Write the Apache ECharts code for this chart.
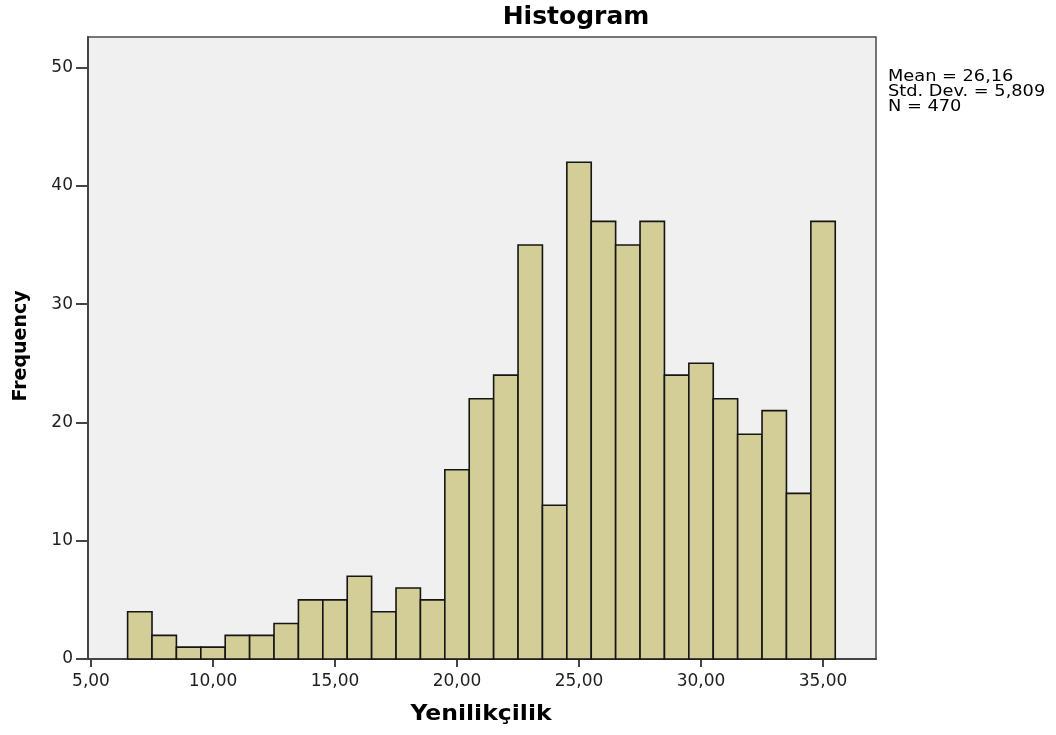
<!DOCTYPE html>
<html>
<head>
<meta charset="utf-8">
<title>Histogram</title>
<script src="https://cdn.jsdelivr.net/npm/echarts@6/dist/echarts.min.js"></script>
<style>
  html, body { margin: 0; padding: 0; background: #ffffff; }
  #chart { width: 1056px; height: 735px; }
</style>
</head>
<body>
<div id="chart"></div>
<script>
// Bin centres (width 1) of the Yenilikçilik score and their frequencies
const binCenters = [7, 8, 9, 10, 11, 12, 13, 14, 15, 16, 17, 18, 19, 20, 21,
                    22, 23, 24, 25, 26, 27, 28, 29, 30, 31, 32, 33, 34, 35];
const frequencies = [4, 2, 1, 1, 2, 2, 3, 5, 5, 7, 4, 6, 5, 16, 22,
                     24, 35, 13, 42, 37, 35, 37, 24, 25, 22, 19, 21, 14, 37];
const binWidth = 1;

// Axis tick values
const xTicks = [5, 10, 15, 20, 25, 30, 35];
const yTicks = [0, 10, 20, 30, 40, 50];

// Summary statistics text
const statsLines = ['Mean = 26,16', 'Std. Dev. = 5,809', 'N = 470'];

const chart = echarts.init(document.getElementById('chart'), null, { renderer: 'canvas' });

const fontMain = '"DejaVu Sans", Arial, sans-serif';

const option = {
  animation: false,
  backgroundColor: '#ffffff',
  grid: {
    left: 88, right: 180, top: 37, bottom: 76,
    show: true,
    backgroundColor: '#f0f0f0',
    borderColor: '#4a4a4a',
    borderWidth: 1.5
  },
  xAxis: {
    type: 'value',
    min: 4.877,
    max: 37.17,
    axisLine: { show: true, onZero: false, lineStyle: { color: '#444444', width: 2 } },
    axisTick: { show: true, length: 8, customValues: xTicks, lineStyle: { color: '#444444', width: 2 } },
    axisLabel: {
      customValues: xTicks,
      margin: 14,
      color: '#1e1e1e',
      fontFamily: fontMain,
      fontSize: 17,
      formatter: v => v.toFixed(2).replace('.', ',')
    },
    splitLine: { show: false }
  },
  yAxis: {
    type: 'value',
    min: 0,
    max: 52.59,
    axisLine: { show: true, lineStyle: { color: '#444444', width: 2 } },
    axisTick: { show: true, length: 12, customValues: yTicks, lineStyle: { color: '#444444', width: 2 } },
    axisLabel: {
      customValues: yTicks,
      margin: 15,
      color: '#1e1e1e',
      fontFamily: fontMain,
      fontSize: 17
    },
    splitLine: { show: false }
  },
  series: [{
    type: 'custom',
    data: binCenters.map((c, i) => [c, frequencies[i]]),
    renderItem: function (params, api) {
      const x = api.value(0);
      const y = api.value(1);
      const p0 = api.coord([x - binWidth / 2, y]);
      const p1 = api.coord([x + binWidth / 2, 0]);
      return {
        type: 'rect',
        shape: { x: p0[0], y: p0[1], width: p1[0] - p0[0], height: p1[1] - p0[1] },
        style: { fill: '#d3ce97', stroke: '#151515', lineWidth: 1.6 }
      };
    },
    z: 2
  }],
  graphic: [
    {
      type: 'text', x: 576, y: 17,
      style: {
        text: 'Histogram', fill: '#000000',
        font: 'bold 25px ' + fontMain,
        textAlign: 'center', textVerticalAlign: 'middle'
      }
    },
    {
      type: 'text', x: 481, y: 715, scaleX: 1.12,
      style: {
        text: 'Yenilikçilik', fill: '#000000',
        font: 'bold 21px ' + fontMain,
        textAlign: 'center', textVerticalAlign: 'middle'
      }
    },
    {
      type: 'text', x: 21, y: 346, rotation: Math.PI / 2,
      style: {
        text: 'Frequency', fill: '#000000',
        font: 'bold 19px ' + fontMain,
        textAlign: 'center', textVerticalAlign: 'middle'
      }
    },
    {
      type: 'text', x: 888, y: 69.5, scaleX: 1.11,
      style: {
        text: statsLines.join('\n'), fill: '#000000',
        font: '16px ' + fontMain,
        lineHeight: 15,
        textAlign: 'left', textVerticalAlign: 'top'
      }
    }
  ]
};

chart.setOption(option);
</script>
</body>
</html>
